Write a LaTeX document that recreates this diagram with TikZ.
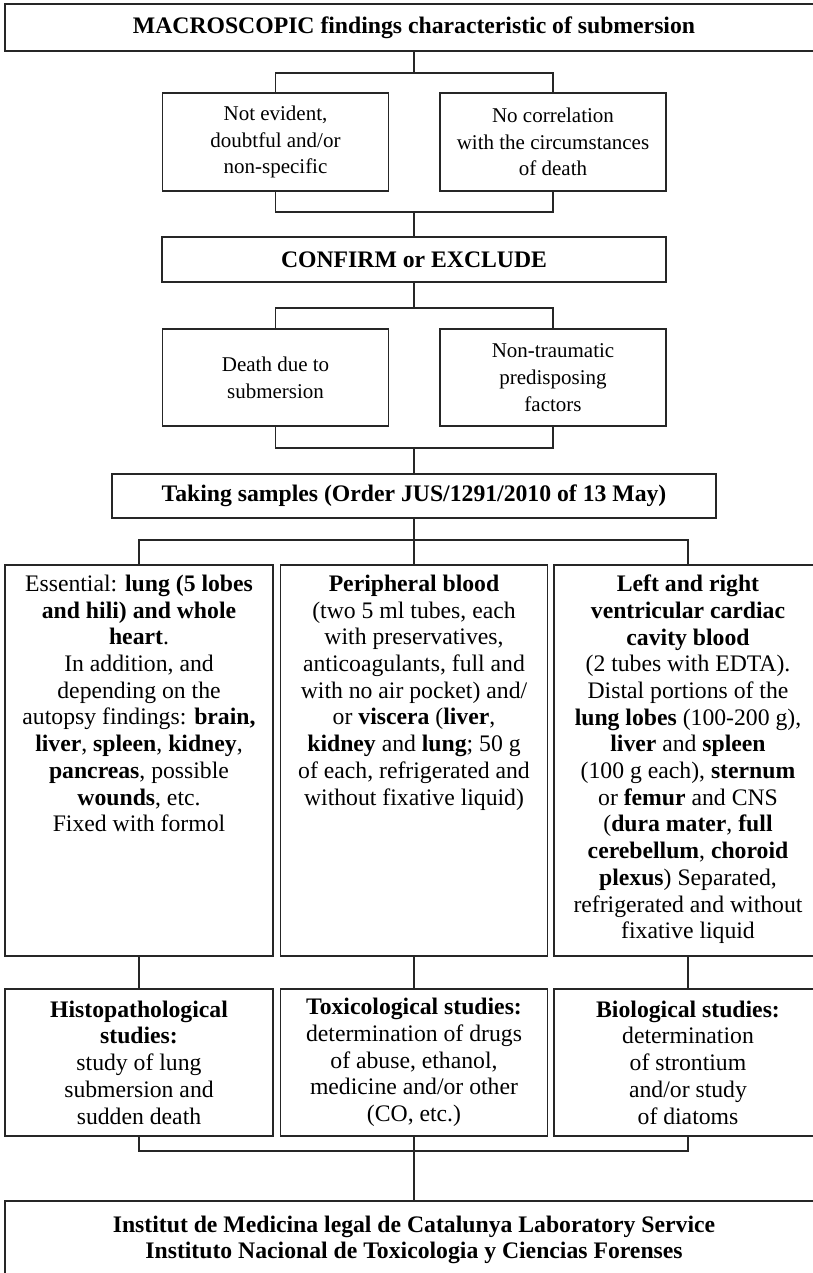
\documentclass[tikz,border=0pt]{standalone}
\usepackage{fontspec}
\setmainfont{Liberation Serif}
\newcommand\bigtxt{\fontsize{23.7}{26.7}\selectfont}
\newcommand\smalltxt{\fontsize{21}{26.7}\selectfont}
\begin{document}
\begin{tikzpicture}[x=1pt, y=-1pt,
    box/.style={draw=black!85, line width=1.3pt, inner sep=0pt, align=center, font=\bigtxt},
    sbox/.style={box, font=\smalltxt, minimum width=226pt, minimum height=98pt},
    tallbox/.style={box, minimum height=391pt},
    studybox/.style={box, minimum height=147pt},
    conn/.style={draw=black!85, line width=1.3pt}]
    \path[use as bounding box] (0,0) rectangle (813,1273);
    \clip (0,0) rectangle (813,1273);
    \node[box, minimum width=818pt, minimum height=47pt, font=\bigtxt\bfseries] (macro) at (414,27.5)
        {MACROSCOPIC findings characteristic of submersion};
    \node[sbox] (notevident) at (275.5,142) {Not evident,\\doubtful and/or\\non-specific};
    \node[sbox] (nocorr) at (553,142) {No correlation\\with the circumstances\\of death};
    \node[box, minimum width=504pt, minimum height=45pt, font=\bigtxt\bfseries] (confirm) at (414,259.5)
        {CONFIRM or EXCLUDE};
    \node[sbox, minimum height=97pt] (death) at (275.5,377.5) {Death due to\\submersion};
    \node[sbox, minimum height=97pt] (nontrauma) at (553,377.5) {Non-traumatic\\predisposing\\factors};
    \node[box, minimum width=604pt, minimum height=44pt, font=\bigtxt\bfseries] (samples) at (414,496)
        {Taking samples (Order JUS/1291/2010 of 13 May)};
    \node[tallbox, minimum width=268pt] (essential) at (139,760.5) {\parbox[c][371pt][t]{255pt}{\centering
        Essential: \textbf{lung (5 lobes}\\\textbf{and hili) and whole}\\\textbf{heart}.\\In addition, and\\
        depending on the\\autopsy findings: \textbf{brain,}\\\textbf{liver}, \textbf{spleen}, \textbf{kidney},\\
        \textbf{pancreas}, possible\\\textbf{wounds}, etc.\\Fixed with formol}};
    \node[tallbox, minimum width=267pt] (blood) at (414,760.5) {\parbox[c][371pt][t]{255pt}{\centering
        \textbf{Peripheral blood}\\(two 5 ml tubes, each\\with preservatives,\\anticoagulants, full and\\
        with no air pocket) and/\\or \textbf{viscera} (\textbf{liver},\\\textbf{kidney} and \textbf{lung}; 50 g\\
        of each, refrigerated and\\without fixative liquid)}};
    \node[tallbox, minimum width=268pt] (cardiac) at (688,760.5) {\parbox[c][371pt][t]{255pt}{\centering
        \textbf{Left and right}\\\textbf{ventricular cardiac}\\\textbf{cavity blood}\\(2 tubes with EDTA).\\
        Distal portions of the\\\textbf{lung lobes} (100-200 g),\\\textbf{liver} and \textbf{spleen}\\
        (100 g each), \textbf{sternum}\\or \textbf{femur} and CNS\\(\textbf{dura mater}, \textbf{full}\\
        \textbf{cerebellum}, \textbf{choroid}\\\textbf{plexus}) Separated,\\refrigerated and without\\
        fixative liquid}};
    \node[studybox, minimum width=268pt] (histo) at (139,1062.5)
        {\textbf{Histopathological}\\\textbf{studies:}\\study of lung\\submersion and\\sudden death};
    \node[studybox, minimum width=267pt] (toxico) at (414,1062.5)
        {\textbf{Toxicological studies:}\\determination of drugs\\of abuse, ethanol,\\medicine and/or other\\(CO, etc.)};
    \node[studybox, minimum width=268pt] (bio) at (688,1062.5)
        {\textbf{Biological studies:}\\determination\\of strontium\\and/or study\\of diatoms};
    \node[box, minimum width=818pt, minimum height=78pt, font=\bigtxt\bfseries] (inst) at (414,1240)
        {Institut de Medicina legal de Catalunya Laboratory Service\\Instituto Nacional de Toxicologia y Ciencias Forenses};
    \coordinate (j1) at (414,73);
    \coordinate (j2) at (414,212);
    \coordinate (j3) at (414,308);
    \coordinate (j4) at (414,448);
    \coordinate (j5) at (414,540);
    \coordinate (j6) at (414,1151);
    \draw[conn] (macro) -- (j1);
    \draw[conn] (notevident.north) |- (j1) -| (nocorr.north);
    \draw[conn] (notevident.south) |- (j2) -| (nocorr.south);
    \draw[conn] (j2) -- (confirm);
    \draw[conn] (confirm) -- (j3);
    \draw[conn] (death.north) |- (j3) -| (nontrauma.north);
    \draw[conn] (death.south) |- (j4) -| (nontrauma.south);
    \draw[conn] (j4) -- (samples);
    \draw[conn] (samples) -- (j5);
    \draw[conn] (essential.north) |- (j5) -| (cardiac.north);
    \draw[conn] (j5) -- (blood);
    \draw[conn] (essential) -- (histo);
    \draw[conn] (blood) -- (toxico);
    \draw[conn] (cardiac) -- (bio);
    \draw[conn] (histo.south) |- (j6) -| (bio.south);
    \draw[conn] (toxico) -- (j6) -- (inst);
\end{tikzpicture}
\end{document}
